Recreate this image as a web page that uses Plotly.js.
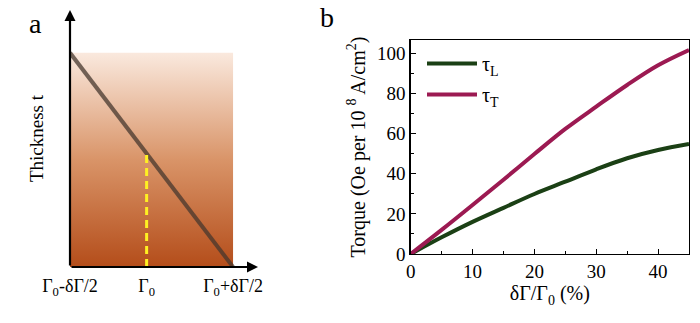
<!DOCTYPE html>
<html>
<head>
<meta charset="utf-8">
<script src="https://cdn.plot.ly/plotly-3.0.1.min.js"></script>
<style>
  html, body { margin: 0; padding: 0; background: #fff; }
  #chart { width: 700px; height: 323px; }
</style>
</head>
<body>
<div id="chart"></div>
<script>
// Panel b: torque versus relative thickness gradient
const gradPct = [0, 5, 10, 15, 20, 25, 30, 35, 40, 45];
const tauL = [0, 8.3, 16.0, 23.0, 29.9, 36.0, 42.2, 47.7, 51.8, 54.8];
const tauT = [0, 12.0, 24.4, 37.0, 49.8, 62.3, 73.4, 84.2, 94.0, 101.6];

// Panel a: wedge schematic (normalised position / thickness)
const slabX = [0, 1, 1, 0, 0];
const slabY = [0, 0, 1, 1, 0];
const wedgeX = [0, 1];
const wedgeY = [1, 0];
const midX = [0.47, 0.47];
const midY = [0, 0.53];
const schemTickVals = [0, 0.47, 1];
const schemTickText = ['Γ<sub>0</sub>-δΓ/2', 'Γ<sub>0</sub>', 'Γ<sub>0</sub>+δΓ/2'];

const W = 700, H = 323;
const px = (a, b) => [a / W, b / W];
const py = (top, bottom) => [1 - bottom / H, 1 - top / H];

const serif = 'Liberation Serif';

const traces = [
  {
    x: slabX, y: slabY, xaxis: 'x2', yaxis: 'y2', type: 'scatter', mode: 'none',
    fill: 'toself',
    fillgradient: { type: 'vertical', colorscale: [[0, '#b44d1a'], [0.5, '#d99468'], [1, '#fae9de']] },
    showlegend: false, hoverinfo: 'skip'
  },
  {
    x: wedgeX, y: wedgeY, xaxis: 'x2', yaxis: 'y2', type: 'scatter', mode: 'lines',
    line: { color: 'rgba(70,55,45,0.75)', width: 4 }, showlegend: false
  },
  {
    x: midX, y: midY, xaxis: 'x2', yaxis: 'y2', type: 'scatter', mode: 'lines',
    line: { color: '#fff022', width: 3, dash: '8px,5px' }, showlegend: false
  },
  {
    x: gradPct, y: tauL, type: 'scatter', mode: 'lines', name: 'τ<sub>L</sub>',
    legendgroup: 'L',
    line: { color: '#1b4015', width: 4, shape: 'spline' }
  },
  {
    x: gradPct, y: tauT, type: 'scatter', mode: 'lines', name: 'τ<sub>T</sub>',
    legendgroup: 'T',
    line: { color: '#9c1a52', width: 4, shape: 'spline' }
  }
];

const layout = {
  width: W, height: H,
  margin: { l: 0, r: 0, t: 0, b: 0 },
  paper_bgcolor: '#fff', plot_bgcolor: 'rgba(0,0,0,0)',
  font: { family: serif, color: '#000', size: 19 },
  showlegend: true,
  legend: {
    x: 422 / W, y: 1 - 44 / H, xanchor: 'left', yanchor: 'top',
    xref: 'paper', yref: 'paper',
    bgcolor: 'rgba(0,0,0,0)', font: { family: serif, size: 20, color: '#000' },
    itemwidth: 50, tracegroupgap: 2
  },
  xaxis: {
    domain: px(410.7, 689), range: [0, 45],
    showline: true, linecolor: '#000', linewidth: 1.3, mirror: true,
    ticks: 'inside', ticklen: 5, tickcolor: '#000', dtick: 10,
    minor: { ticks: 'inside', ticklen: 3, dtick: 5, tickcolor: '#000' },
    showgrid: false, zeroline: false,
    tickfont: { family: serif, size: 19, color: '#000' },
    title: { text: 'δΓ/Γ<sub>0</sub> (%)', font: { family: serif, size: 20, color: '#000' }, standoff: 5 }
  },
  yaxis: {
    domain: py(40, 254), range: [0, 106.6],
    showline: true, linecolor: '#000', linewidth: 1.3, mirror: true,
    ticks: 'inside', ticklen: 5, tickcolor: '#000', dtick: 20,
    minor: { ticks: 'inside', ticklen: 3, dtick: 10, tickcolor: '#000' },
    showgrid: false, zeroline: false,
    tickfont: { family: serif, size: 19, color: '#000' },
    title: { text: 'Torque (Oe per 10 <sup>8</sup> A/cm<sup>2</sup>)', font: { family: serif, size: 20, color: '#000' }, standoff: 6 }
  },
  xaxis2: {
    domain: px(70, 258), range: [0, 1.153], anchor: 'y2',
    showline: false, showgrid: false, zeroline: false, ticks: '',
    tickvals: schemTickVals, ticktext: schemTickText,
    tickfont: { family: serif, size: 18, color: '#000' }, ticklabelstandoff: 6
  },
  yaxis2: {
    domain: py(10, 267), range: [0, 1.2], anchor: 'x2',
    showline: false, showgrid: false, zeroline: false, ticks: '',
    showticklabels: false,
    title: { text: 'Thickness t', font: { family: serif, size: 19, color: '#000' }, standoff: 20 }
  },
  annotations: [
    { xref: 'x2', yref: 'y2', x: 1.153, y: 0, ax: 0, ay: 0, axref: 'x2', ayref: 'y2',
      text: '', showarrow: true, arrowhead: 2, arrowsize: 1, arrowwidth: 2.2, arrowcolor: '#000' },
    { xref: 'x2', yref: 'y2', x: 0, y: 1.2, ax: 0, ay: 0, axref: 'x2', ayref: 'y2',
      text: '', showarrow: true, arrowhead: 2, arrowsize: 1, arrowwidth: 2.2, arrowcolor: '#000' },
    { xref: 'paper', yref: 'paper', x: 35 / W, y: 1 - 23 / H, text: 'a', showarrow: false,
      font: { family: serif, size: 28, color: '#000' }, xanchor: 'center', yanchor: 'middle' },
    { xref: 'paper', yref: 'paper', x: 327 / W, y: 1 - 18 / H, text: 'b', showarrow: false,
      font: { family: serif, size: 28, color: '#000' }, xanchor: 'center', yanchor: 'middle' }
  ]
};

Plotly.newPlot('chart', traces, layout, { staticPlot: true, displayModeBar: false });
</script>
</body>
</html>
